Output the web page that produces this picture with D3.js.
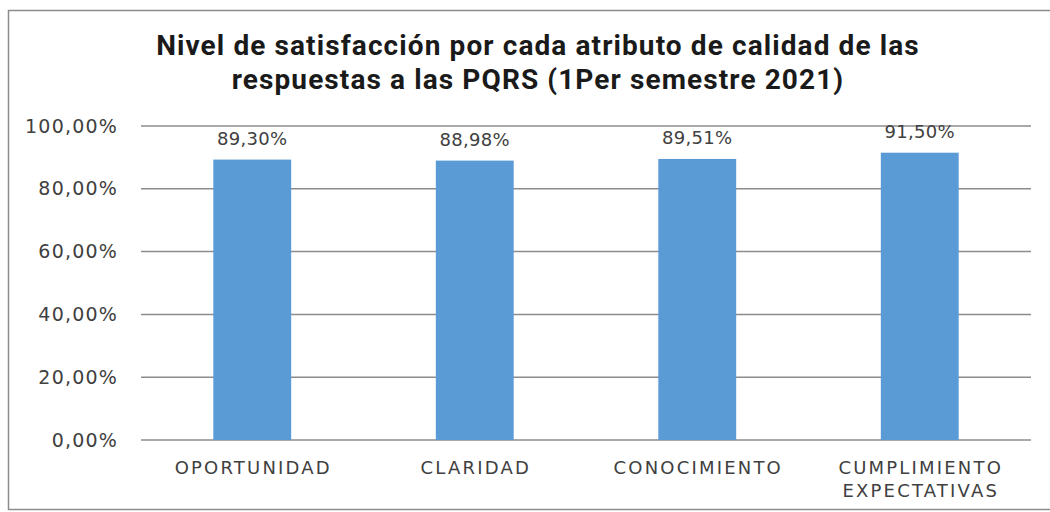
<!DOCTYPE html>
<html>
<head>
<meta charset="utf-8">
<script src="https://cdn.jsdelivr.net/npm/d3@7"></script>
<style>
  body { margin: 0; background: #fff; }
  text { font-family: "DejaVu Sans", sans-serif; fill: #404040; }
  .title { font-family: Roboto, "Open Sans", sans-serif; font-weight: 700; fill: #1a1a1a; }
</style>
</head>
<body>
<script>
// data
var categories = [["OPORTUNIDAD"], ["CLARIDAD"], ["CONOCIMIENTO"], ["CUMPLIMIENTO", "EXPECTATIVAS"]];
var values = [89.30, 88.98, 89.51, 91.50];
var yTicks = [0, 20, 40, 60, 80, 100];
var titleLines = ["Nivel de satisfacción por cada atributo de calidad de las",
                  "respuestas a las PQRS (1Per semestre 2021)"];

var width = 1050, height = 512;
var margin = { top: 126, right: 19, bottom: 72, left: 141 };

var svg = d3.select("body").append("svg")
    .attr("width", width)
    .attr("height", height);

// chart frame
svg.append("rect")
    .attr("x", 8.5).attr("y", 10.5)
    .attr("width", width + 10).attr("height", 499)
    .attr("fill", "none")
    .attr("stroke", "#8c8c8c")
    .attr("stroke-width", 1.5);

// title, one text per line
svg.selectAll(".title")
    .data(titleLines)
    .enter().append("text")
    .attr("class", "title")
    .attr("text-anchor", "middle")
    .attr("font-size", 28)
    .attr("letter-spacing", 1.1)
    .attr("x", 538)
    .attr("y", function(d, i) { return 55 + i * 34; })
    .text(function(d) { return d; });

var g = svg.append("g")
    .attr("transform", "translate(" + margin.left + "," + margin.top + ")");

var w = width - margin.left - margin.right;
var h = height - margin.top - margin.bottom;

var x = d3.scaleBand()
    .domain(d3.range(categories.length))
    .range([0, w])
    .paddingInner(0.65)
    .paddingOuter(0.325);

var y = d3.scaleLinear()
    .domain([0, 100])
    .range([h, 0]);

// gridlines
g.selectAll(".grid")
    .data(yTicks)
    .enter().append("line")
    .attr("class", "grid")
    .attr("x1", 0).attr("x2", w)
    .attr("y1", function(d) { return y(d); })
    .attr("y2", function(d) { return y(d); })
    .attr("stroke", "#8c8c8c")
    .attr("stroke-width", 1.5);

// y axis labels
var yAxis = d3.axisLeft(y)
    .tickValues(yTicks)
    .tickSize(0)
    .tickPadding(23)
    .tickFormat(function(d) { return d3.format(".2f")(d).replace(".", ",") + "%"; });

g.append("g")
    .call(yAxis)
    .call(function(a) { a.select(".domain").remove(); })
    .selectAll("text")
    .attr("font-size", 19)
    .attr("letter-spacing", 1.2)
    .attr("fill", "#404040");

// bars
g.selectAll(".bar")
    .data(values)
    .enter().append("rect")
    .attr("class", "bar")
    .attr("x", function(d, i) { return x(i); })
    .attr("width", x.bandwidth())
    .attr("y", function(d) { return y(d); })
    .attr("height", function(d) { return h - y(d); })
    .attr("fill", "#5b9bd5");

// value labels
g.selectAll(".val")
    .data(values)
    .enter().append("text")
    .attr("class", "val")
    .attr("text-anchor", "middle")
    .attr("font-size", 18)
    .attr("letter-spacing", 0.3)
    .attr("x", function(d, i) { return x(i) + x.bandwidth() / 2; })
    .attr("y", function(d) { return y(d) - 15; })
    .text(function(d) { return d3.format(".2f")(d).replace(".", ",") + "%"; });

// category labels
var cat = g.selectAll(".cat")
    .data(categories)
    .enter().append("text")
    .attr("class", "cat")
    .attr("text-anchor", "middle")
    .attr("font-size", 18)
    .attr("letter-spacing", 2.2);

cat.selectAll("tspan")
    .data(function(d, i) { return d.map(function(s) { return { s: s, i: i }; }); })
    .enter().append("tspan")
    .attr("x", function(d) { return x(d.i) + x.bandwidth() / 2 + 1; })
    .attr("y", function(d, j) { return h + 34 + j * 23; })
    .text(function(d) { return d.s; });
</script>
</body>
</html>
